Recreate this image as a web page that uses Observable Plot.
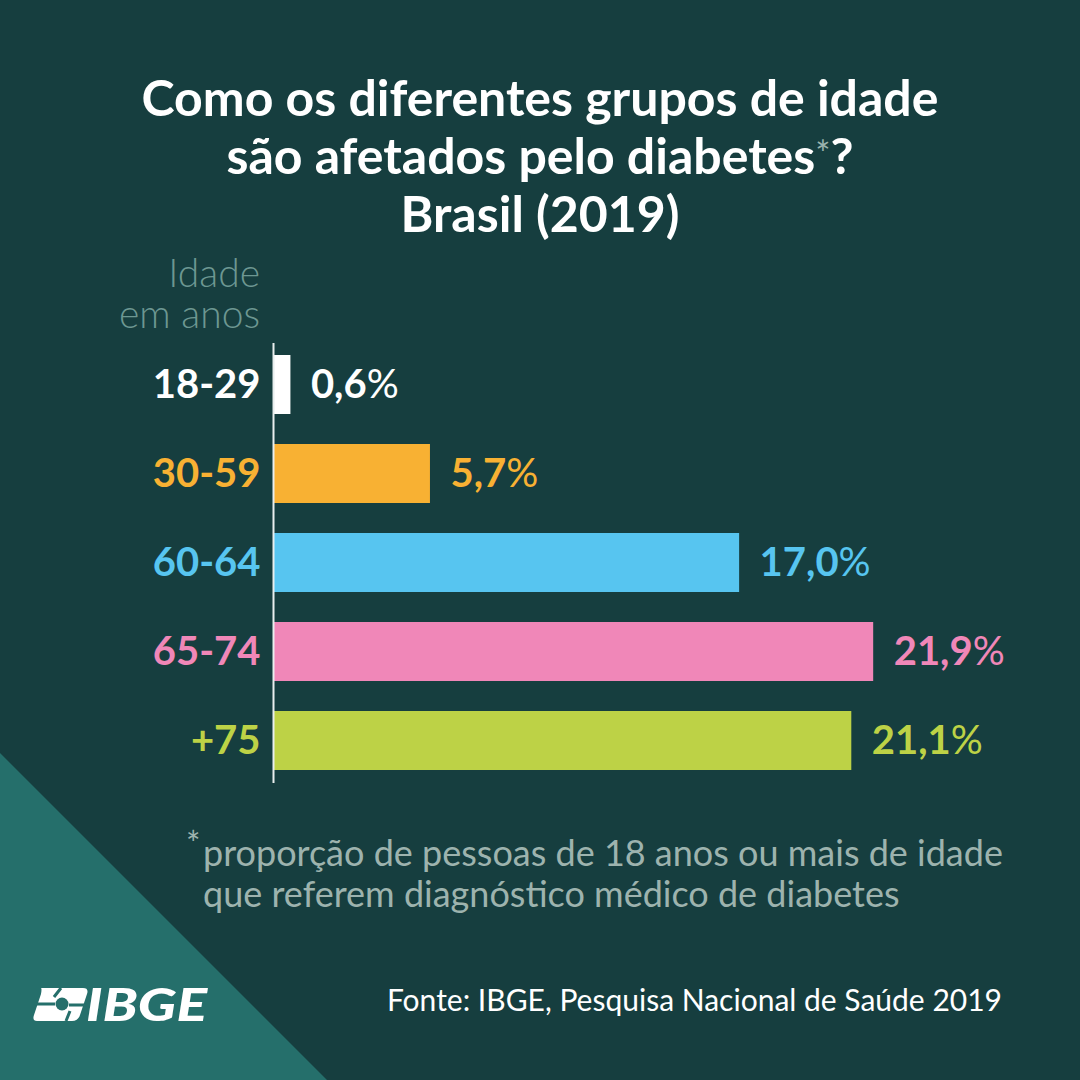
<!DOCTYPE html>
<html><head><meta charset="utf-8">
<script src="https://cdn.jsdelivr.net/npm/d3@7"></script>
<script src="https://cdn.jsdelivr.net/npm/@observablehq/plot@0.6"></script>
<style>
html,body{margin:0;padding:0;}
body{width:1080px;height:1080px;overflow:hidden;}
#page{position:relative;width:1080px;height:1080px;background:#163e3f;font-family:Lato,sans-serif;overflow:hidden;}
#tri{position:absolute;left:0;top:0;}
#title{position:absolute;left:0;top:68px;width:1080px;text-align:center;color:#fff;font-weight:700;font-size:50px;line-height:58px;}
#title .ast{color:#9ab3ae;font-weight:400;font-size:36px;vertical-align:top;position:relative;top:-2px;}
#ylab{position:absolute;right:820px;top:252px;text-align:right;color:#6d9792;font-weight:300;font-size:39px;}
#ylab div{height:41px;line-height:41px;}
#chart{position:absolute;left:0;top:343px;}
#note{position:absolute;left:186px;top:832px;color:#9db3ae;font-size:36px;line-height:41px;}
#note .a{position:absolute;left:0;top:-10px;font-size:34px;}
#note .t{margin-left:17px;}
#src{position:absolute;right:78px;top:981px;color:#fff;font-size:30px;}
#logo{position:absolute;left:33px;top:984px;overflow:visible;}
</style></head>
<body>
<div id="page">
<svg id="tri" width="1080" height="1080"><polygon points="0,753 0,1080 327,1080" fill="#256f6b"/></svg>
<div id="title">Como os diferentes grupos de idade<br>são afetados pelo diabetes<span class="ast">*</span>?<br>Brasil (2019)</div>
<div id="ylab"><div>Idade</div><div>em anos</div></div>
<div id="chart"></div>
<div id="note"><span class="a">*</span><div class="t">proporção de pessoas de 18 anos ou mais de idade</div><div class="t">que referem diagnóstico médico de diabetes</div></div>
<svg id="logo" width="200" height="46" viewBox="0 -2 200 46">
  <path d="M8 2 H50 Q56 2 54 8 L47 29 Q45 35 39 35 H4 Q-1 35 1 29 L8 8 Q9 2 8 2 Z" fill="#fff"/>
  <circle cx="29" cy="18" r="6.5" fill="#256f6b"/>
  <path d="M3 18 L22 18 M36 19 L54 19" stroke="#256f6b" stroke-width="3"/>
  <path d="M28 2 L21 11 M33 35 L37 25" stroke="#256f6b" stroke-width="3"/>
  <text x="53" y="35" fill="#fff" font-family="Lato" font-weight="900" font-style="italic" font-size="46" textLength="121" lengthAdjust="spacingAndGlyphs">IBGE</text>
</svg>
<div id="src">Fonte: IBGE, Pesquisa Nacional de Saúde 2019</div>
</div>
<script>
const ages = ["18-29", "30-59", "60-64", "65-74", "+75"];
const values = [0.6, 5.7, 17.0, 21.9, 21.1];
const colors = ["#ffffff", "#f8b133", "#57c5f0", "#f087b8", "#bdd246"];

const data = ages.map((a, i) => ({age: a, value: values[i]}));
const fmt = v => v.toFixed(1).replace(".", ",") + "%";

const chart = Plot.plot({
  width: 1080,
  height: 440,
  marginLeft: 274,
  marginRight: 122,
  marginTop: 0,
  marginBottom: 0,
  style: {background: "transparent", fontFamily: "Lato, sans-serif", overflow: "visible"},
  x: {domain: [0, 25], axis: null},
  y: {domain: ages, paddingInner: 1/3, paddingOuter: 1/9, axis: null},
  color: {domain: ages, range: colors},
  marks: [
    Plot.barX(data, {x: "value", y: "age", fill: "age"}),
    Plot.ruleX([0], {stroke: "#e8eeee", strokeWidth: 2, dx: -1}),
    Plot.text(data, {x: 0, y: "age", text: "age", fill: "age", textAnchor: "end", dx: -14, fontSize: 40, fontWeight: 700}),
    Plot.text(data, {x: "value", y: "age", text: d => fmt(d.value), fill: "age", textAnchor: "start", dx: 20, fontSize: 40, fontWeight: 700})
  ]
});
document.getElementById("chart").appendChild(chart);
// lighter percent sign
chart.querySelectorAll("text").forEach(t => {
  const s = t.textContent;
  if (s.endsWith("%")) {
    t.textContent = s.slice(0, -1);
    const ts = document.createElementNS("http://www.w3.org/2000/svg", "tspan");
    ts.setAttribute("font-weight", "400");
    ts.textContent = "%";
    t.appendChild(ts);
  }
});
</script>
</body></html>
